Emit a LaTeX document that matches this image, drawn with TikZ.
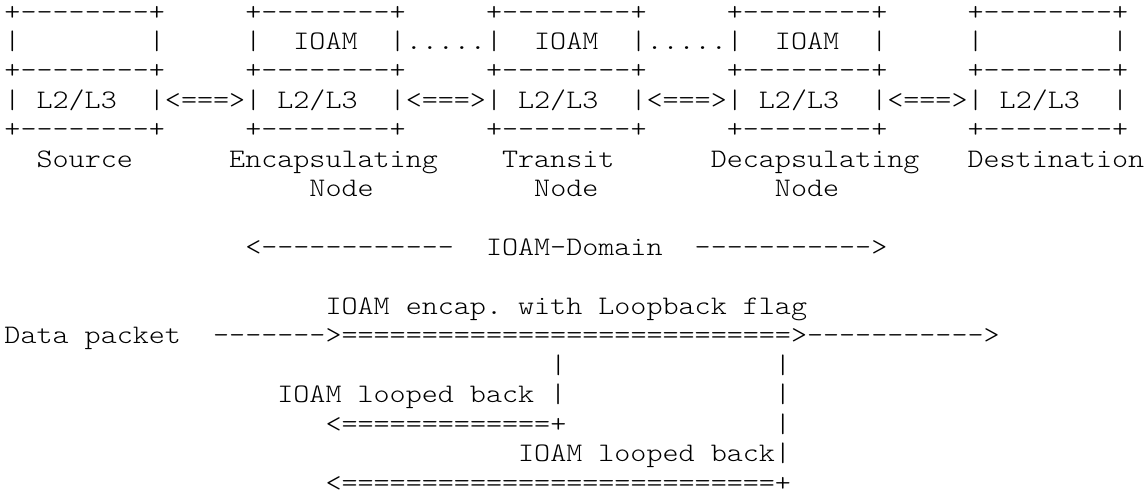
\documentclass[tikz,border=0pt]{standalone}
\usepackage{fontspec}
\setmonofont{Latin Modern Mono Light}[FakeStretch=1.143]
\tikzset{
  asciiline/.style={anchor=base west,inner sep=0pt,outer sep=0pt,font=\fontsize{26.75}{29.5}\selectfont\ttfamily,text=black},
}
\newcommand{\rowpos}[1]{(4.5pt,{-(#1*29.45pt+20pt)})}
\begin{document}
\begin{tikzpicture}[x=1pt,y=1pt]
\useasboundingbox[fill=white] (0,0) rectangle (1144,-491);
\node[asciiline] (l0) at \rowpos{0} {+--------+~~~~~+--------+~~~~~+--------+~~~~~+--------+~~~~~+--------+};
\node[asciiline] (l1) at \rowpos{1} {|~~~~~~~~|~~~~~|~~IOAM~~|.....|~~IOAM~~|.....|~~IOAM~~|~~~~~|~~~~~~~~|};
\node[asciiline] (l2) at \rowpos{2} {+--------+~~~~~+--------+~~~~~+--------+~~~~~+--------+~~~~~+--------+};
\node[asciiline] (l3) at \rowpos{3} {|~L2/L3~~|<===>|~L2/L3~~|<===>|~L2/L3~~|<===>|~L2/L3~~|<===>|~L2/L3~~|};
\node[asciiline] (l4) at \rowpos{4} {+--------+~~~~~+--------+~~~~~+--------+~~~~~+--------+~~~~~+--------+};
\node[asciiline] (l5) at \rowpos{5} {~~Source~~~~~~Encapsulating~~~~Transit~~~~~~Decapsulating~~~Destination};
\node[asciiline] (l6) at \rowpos{6} {~~~~~~~~~~~~~~~~~~~Node~~~~~~~~~~Node~~~~~~~~~~~Node};
\node[asciiline] (l8) at \rowpos{8} {~~~~~~~~~~~~~~~<------------~~IOAM-Domain~~----------->};
\node[asciiline] (l10) at \rowpos{10} {~~~~~~~~~~~~~~~~~~~~IOAM encap. with Loopback flag};
\node[asciiline] (l11) at \rowpos{11} {Data packet~~------->============================>----------->};
\node[asciiline] (l12) at \rowpos{12} {~~~~~~~~~~~~~~~~~~~~~~~~~~~~~~~~~~|~~~~~~~~~~~~~|};
\node[asciiline] (l13) at \rowpos{13} {~~~~~~~~~~~~~~~~~IOAM looped back~|~~~~~~~~~~~~~|};
\node[asciiline] (l14) at \rowpos{14} {~~~~~~~~~~~~~~~~~~~~<=============+~~~~~~~~~~~~~|};
\node[asciiline] (l15) at \rowpos{15} {~~~~~~~~~~~~~~~~~~~~~~~~~~~~~~~~IOAM looped back|};
\node[asciiline] (l16) at \rowpos{16} {~~~~~~~~~~~~~~~~~~~~<===========================+};
\end{tikzpicture}
\end{document}
